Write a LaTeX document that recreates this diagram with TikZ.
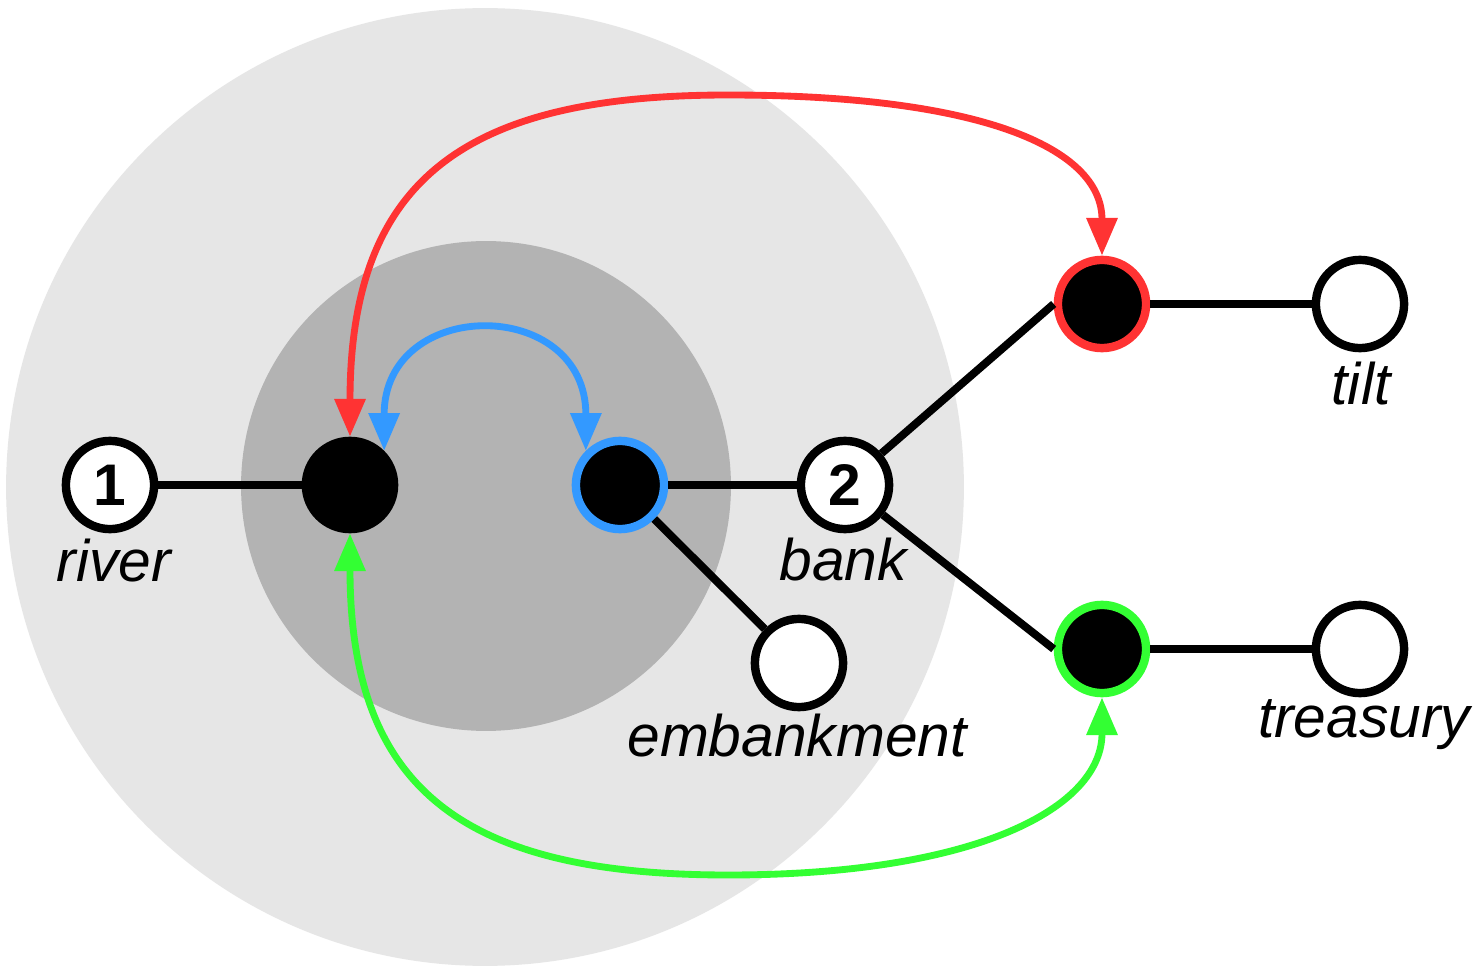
\documentclass[tikz,border=0pt]{standalone}
\usepackage{fontspec}
\setmainfont{Liberation Sans}
\usetikzlibrary{arrows.meta}
\definecolor{outerdisc}{HTML}{E6E6E6}
\definecolor{innerdisc}{HTML}{B3B3B3}
\definecolor{redlink}{HTML}{FF3333}
\definecolor{bluelink}{HTML}{3399FF}
\definecolor{greenlink}{HTML}{33FF33}

\begin{document}
\begin{tikzpicture}
            [x=0.02cm,y=-0.02cm,
             dot/.style={circle,draw=black,line width=4.8pt,minimum size=50.2pt,inner sep=0pt,
                         font=\fontsize{33.4}{40}\selectfont\bfseries},
             wnode/.style={dot,fill=white},
             bnode/.style={dot,fill=black},
             word/.style={anchor=base,inner sep=0pt,font=\fontsize{33.4}{40}\selectfont\itshape},
             edge/.style={line width=4.5pt},
             link/.style={line width=3.9pt,
                          {Triangle[width=17pt,length=21.5pt]}-{Triangle[width=17pt,length=21.5pt]}}]
            \fill[white] (0,0) rectangle (1475,969);
            \useasboundingbox (0,0) rectangle (1475,969);
            % the two discs
            \fill[outerdisc] (485,487) circle [radius=9.58cm];
            \fill[innerdisc] (486,486) circle [radius=4.9cm];
            % nodes
            \node[wnode] (1) at (110,485) {1};
            \node[bnode] (a) at (350,485) {};
            \node[bnode,draw=bluelink] (b) at (620,485) {};
            \node[wnode] (2) at (845,485) {2};
            \node[wnode] (e) at (799,663) {};
            \node[bnode,draw=redlink] (r) at (1102,304) {};
            \node[wnode] (t) at (1360,304) {};
            \node[bnode,draw=greenlink] (g) at (1102,649) {};
            \node[wnode] (s) at (1360,649) {};
            % labels
            \node[word] (lriver) at (114,582) {river};
            \node[word] (lbank) at (843,581) {bank};
            \node[word] (lembankment) at (797,756) {embankment};
            \node[word] (ltilt) at (1361,405) {tilt};
            \node[word] (ltreasury) at (1364,737) {treasury};
            % edges
            \draw[edge] (1) -- (a);
            \draw[edge] (b) -- (2);
            \draw[edge] (b) -- (e);
            \draw[edge] (2) -- (r.west);
            \draw[edge] (2) -- (g.west);
            \draw[edge] (r) -- (t);
            \draw[edge] (g) -- (s);
            % links
            \coordinate (redtop) at (728,95);
            \coordinate (greenbottom) at (728,875);
            \draw[link,redlink] (a.north) .. controls (350,177) and (468,95) .. (redtop)
                  .. controls (978,95) and (1102,147) .. (r.north);
            \draw[link,bluelink] (a.north east) .. controls (384,296) and (586,296) .. (b.north west);
            \draw[link,greenlink] (a.south) .. controls (350,793) and (468,875) .. (greenbottom)
                  .. controls (978,875) and (1102,807) .. (g.south);
        \end{tikzpicture}
\end{document}
